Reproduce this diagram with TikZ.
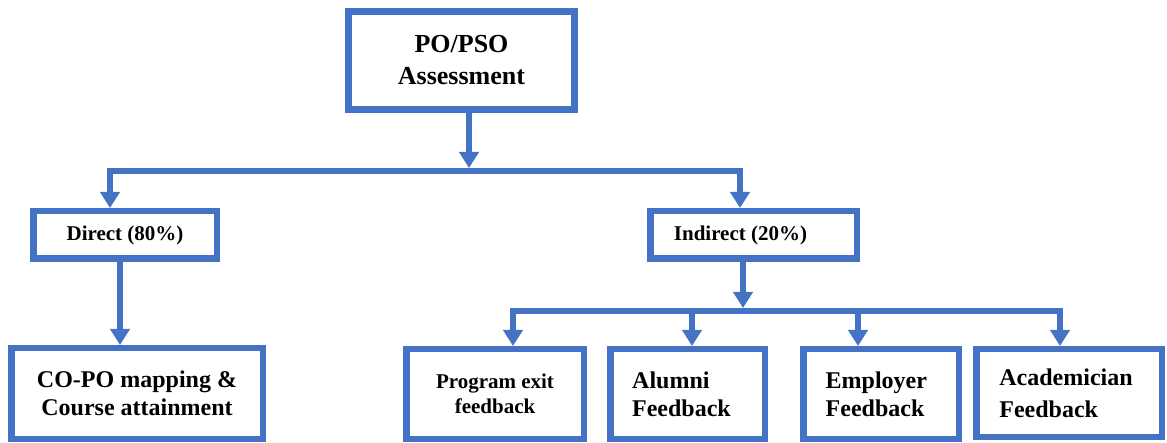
\documentclass[tikz,border=0pt]{standalone}
\usepackage{fontspec}
\setmainfont{Liberation Serif}
\usetikzlibrary{arrows.meta, positioning, calc}
\definecolor{poblue}{HTML}{4472C4}

\begin{document}
\begin{tikzpicture}[
    x=1pt, y=-1pt, % one unit = one pixel of the page, y pointing down
    every node/.style={font=\bfseries}, % bold serif everywhere
    box/.style={draw=poblue, line width=6.5pt, fill=white, inner sep=0pt}, % framed boxes
    link/.style={draw=poblue, line width=6pt}, % plain connector
    arr/.style={link, -{Triangle[width=19pt, length=16pt]}}, % connector with head
    txtbig/.style={font=\bfseries\fontsize{26}{32}\selectfont},
    txtmid/.style={font=\bfseries\fontsize{24}{28}\selectfont},
    txtsmall/.style={font=\bfseries\fontsize{21}{25}\selectfont}
]
    \useasboundingbox (0,0) rectangle (1167,443);

    % 1. top box
    \node[box, txtbig, align=center, minimum width=226pt, minimum height=98pt]
        (top) at (461.5,60.5) {PO/PSO\\Assessment};

    % 2. second level
    \node[box, txtsmall, minimum width=183.5pt, minimum height=47.5pt]
        (direct) at (125,235) {Direct (80\%)};
    \node[box, txtsmall, minimum width=206.5pt, minimum height=47.5pt]
        (indirect) at (753.5,235) {\hspace*{-26pt}Indirect (20\%)};

    % 3. bottom level
    \node[box, txtmid, align=center, minimum width=251.5pt, minimum height=90.5pt]
        (copo) at (137,393.5) {CO-PO mapping \&\\Course attainment};
    \node[box, txtsmall, align=center, minimum width=177.5pt, minimum height=89.5pt]
        (exitfb) at (495,394) {Program exit\\feedback};
    \node[box, txtmid, align=left, minimum width=154.5pt, minimum height=89.5pt]
        (alumni) at (687.5,394) {Alumni\\Feedback\hspace*{12pt}};
    \node[box, txtmid, align=left, minimum width=155.5pt, minimum height=89.5pt]
        (employer) at (881,394) {Employer\\Feedback\hspace*{12pt}};
    \node[box, txtmid, align=left, minimum width=185.5pt, minimum height=87.5pt,
          font=\bfseries\fontsize{24}{32}\selectfont]
        (acad) at (1069,393) {Academician\hspace*{6pt}\\Feedback};

    % 4. junction points of the connectors
    \coordinate (j1) at (469,168);
    \coordinate (l1) at (110,171);
    \coordinate (r1) at (740,171);
    \coordinate (d1) at (120,0);
    \coordinate (j2) at (743,308);
    \coordinate (b1) at (513,311);
    \coordinate (b2) at (692,311);
    \coordinate (b3) at (858,311);
    \coordinate (b4) at (1060,311);

    % 5. connectors
    \draw[arr] (top.south -| j1) -- (j1);
    \draw[arr] (r1) -- (l1) -- (l1 |- direct.north);
    \draw[arr] (l1) -- (r1) -- (r1 |- indirect.north);
    \draw[arr] (direct.south -| d1) -- (copo.north -| d1);
    \draw[arr] (indirect.south -| j2) -- (j2);
    \draw[arr] (b4) -- (b1) -- (b1 |- exitfb.north);
    \draw[arr] (b1) -- (b4) -- (b4 |- acad.north);
    \draw[arr] (b2) -- (b2 |- alumni.north);
    \draw[arr] (b3) -- (b3 |- employer.north);

\end{tikzpicture}
\end{document}
